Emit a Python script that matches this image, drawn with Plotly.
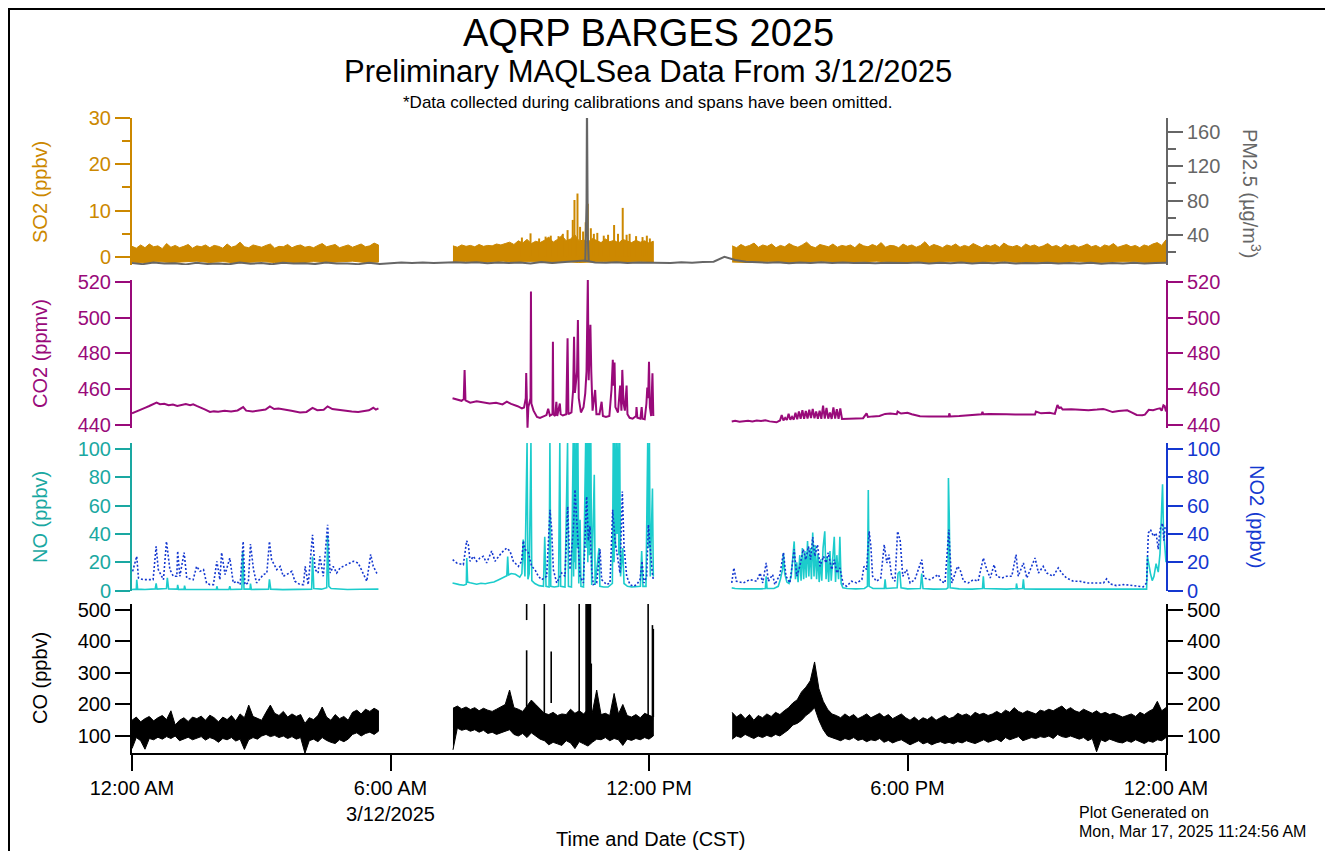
import numpy as np
import plotly.graph_objects as go

FONT = "Arial, 'Liberation Sans', Helvetica, sans-serif"

# ---------------- data (hours after 3/12/2025 00:00 CST) ----------------
segments_h = [(0.0, 5.72), (7.45, 12.10), (13.93, 24.0)]

# SO2 (ppbv): dense noise band -> upper / lower envelope, evenly sampled inside each segment
so2_hi_1 = [2.3, 1.9, 2.6, 2.0, 2.8, 2.2, 2.4, 1.8, 2.9, 2.1, 2.5, 2.0, 2.3, 2.7, 1.9, 2.4, 2.2, 2.6, 2.0, 2.5,
            2.3, 1.9, 2.8, 2.1, 2.4, 3.2, 2.2, 2.0, 2.6, 2.3, 2.1, 2.5, 2.8, 1.9, 2.3, 2.2, 2.7, 2.0, 2.4, 2.6,
            2.1, 2.3, 2.0, 2.5, 2.9, 2.2, 2.4, 2.7, 2.0, 2.3, 2.6, 2.1, 2.5, 2.8, 2.2, 2.4, 3.0, 2.6]
so2_lo_1 = [-1.1, -1.3, -1.0, -1.2, -1.1, -0.9, -1.2, -1.0, -1.3, -1.1, -1.0, -1.2, -1.1, -1.3, -1.0, -1.2,
            -1.1, -0.9, -1.2, -1.1]
so2_hi_2 = [2.4, 2.1, 2.6, 2.3, 2.5, 2.2, 2.7, 2.3, 2.5, 2.4, 2.8, 2.6, 2.9, 3.2, 2.7, 3.5,
            3.0, 3.8, 2.9, 3.4, 3.1, 3.6, 4.3, 3.2, 3.8, 4.6, 3.5, 3.9, 4.8, 3.4, 3.7, 3.2, 4.0, 3.5, 3.1, 3.9,
            3.3, 3.6, 3.0, 3.8, 3.4, 3.1, 3.6, 3.2, 3.5, 3.0, 3.4]
so2_lo_2 = [-1.1, -1.0, -1.2, -1.1, -0.9, -1.2, -1.0, -1.1, -1.3, -1.0, -1.2, -1.1, -1.0, -1.2, -1.1, -1.0, -1.2]
so2_hi_3 = [2.4, 2.0, 2.7, 2.2, 2.5, 3.0, 2.1, 2.6, 2.3, 2.8, 2.0, 2.5, 2.2, 2.9, 2.4, 2.1, 2.6, 3.2, 2.3, 2.0,
            2.7, 2.4, 2.2, 2.8, 2.1, 2.5, 2.3, 2.6, 2.0, 2.9, 2.4, 2.2, 2.7, 2.3, 3.1, 2.1, 2.5, 2.4, 2.0, 2.8,
            2.3, 2.6, 2.1, 2.5, 3.3, 2.2, 2.7, 2.4, 2.0, 2.6, 2.3, 2.8, 2.1, 2.5, 2.2, 2.9, 2.4, 2.0, 2.6, 2.3,
            2.7, 2.1, 3.0, 2.4, 2.2, 2.5, 2.0, 2.8, 2.3, 2.6, 2.1, 2.4, 2.9, 2.2, 2.5, 2.0, 2.7, 2.3, 2.6, 2.1,
            2.4, 2.8, 2.2, 2.5, 2.0, 2.6, 2.3, 2.9, 2.1, 2.4, 2.7, 2.2, 2.5, 2.0, 2.6, 2.3, 2.8, 3.1, 2.5, 3.7]
so2_lo_3 = [-1.1, -1.2, -1.0, -1.3, -1.1, -1.0, -1.2, -1.1, -0.9, -1.2, -1.1, -1.3, -1.0, -1.2, -1.1, -1.0,
            -1.2, -1.1, -1.3, -1.0, -1.2, -1.1, -1.0, -1.2, -1.1]
so2_spike_t = [9.05, 9.25, 9.45, 9.60, 9.72, 9.90, 10.00, 10.11, 10.23, 10.27, 10.34, 10.40, 10.47, 10.53,
               10.58, 10.65, 10.72, 10.80, 10.95, 11.05, 11.19, 11.28, 11.39, 11.48, 11.55, 11.70, 11.85,
               11.95, 12.02]
so2_spike_v = [4.2, 5.1, 4.0, 4.4, 4.6, 4.5, 5.0, 5.8, 8.0, 12.3, 13.7, 6.5, 5.5, 7.5,
               11.5, 6.2, 5.0, 5.2, 4.6, 4.8, 6.9, 5.0, 10.6, 4.8, 5.0, 4.5, 4.3, 4.6, 4.0]

# PM2.5 (ug/m3): every 0.25 h from 0 to 24, plus the short plume near 10:34
pm25_v = [7.5, 6.2, 8.0, 6.8, 7.2, 5.9, 7.8, 6.5, 7.0, 6.0, 8.2, 6.6, 7.4, 6.1, 7.9, 6.8, 7.2, 6.3, 8.1, 6.9,
          7.0, 6.2, 7.7, 6.5,
          7.3, 8.0, 7.6, 8.2, 7.4, 7.8, 8.5, 7.9, 8.3, 7.2, 8.0, 7.5, 8.1, 7.0, 8.6, 7.6, 8.8, 9.5, 10.5, 8.2,
          7.8, 8.5, 7.6, 8.0,
          7.8, 8.2, 7.5, 8.4, 7.9, 8.6, 9.0, 14.8, 11.0, 9.0, 8.2, 7.8, 8.4, 7.2, 8.0, 7.5, 8.3, 7.6, 8.1, 7.4,
          7.9, 7.2, 7.8, 7.5,
          7.5, 8.2, 7.0, 7.8, 7.3, 8.1, 6.9, 7.7, 7.2, 8.0, 6.8, 7.6, 7.1, 7.9, 6.8, 7.5, 7.0, 7.8, 6.7, 7.4,
          7.0, 7.7, 6.9, 7.5, 7.8]
pm25_spike_t = [10.52, 10.54, 10.55, 10.56, 10.57, 10.58, 10.60]
pm25_spike_v = [9.0, 40.0, 77.0, 200.0, 80.0, 40.0, 9.5]

# CO2 (ppmv): (hour, value)
co2_seg1 = [(0.0, 446.5), (0.1, 447.4), (0.2, 448.3), (0.3, 449.6), (0.4, 450.6), (0.5, 452.0), (0.57, 452.5),
            (0.65, 451.6), (0.75, 451.9), (0.85, 451.0), (0.95, 451.4), (1.05, 450.6), (1.15, 451.2),
            (1.25, 451.7), (1.35, 451.1), (1.42, 451.6), (1.5, 450.7), (1.6, 449.8), (1.7, 448.6), (1.81, 447.3),
            (1.9, 447.6), (2.0, 447.4), (2.15, 447.9), (2.3, 447.5), (2.45, 448.1), (2.58, 450.0), (2.65, 448.0),
            (2.8, 447.6), (2.95, 448.2), (3.1, 448.6), (3.2, 450.4), (3.3, 448.9), (3.4, 449.2), (3.55, 448.8),
            (3.7, 448.0), (3.9, 447.0), (4.05, 447.3), (4.19, 449.6), (4.3, 448.3), (4.45, 448.5), (4.54, 450.4),
            (4.65, 448.9), (4.8, 448.3), (4.95, 447.8), (5.1, 447.5), (5.25, 447.3), (5.4, 447.6), (5.5, 448.2),
            (5.6, 449.6), (5.66, 448.6), (5.72, 449.3)]
co2_seg2 = [(7.44, 454.9), (7.55, 454.2), (7.65, 453.5), (7.70, 454.5), (7.72, 470.8), (7.74, 453.8), (7.85, 452.5),
            (8.0, 453.2), (8.15, 452.6), (8.3, 452.0), (8.45, 452.4), (8.6, 451.5), (8.70, 453.0), (8.8, 451.8),
            (8.95, 450.5), (9.05, 449.3), (9.10, 449.8), (9.14, 455.0), (9.15, 469.0), (9.16, 452.0),
            (9.18, 438.5), (9.20, 450.0), (9.25, 455.0), (9.26, 514.6), (9.27, 452.0), (9.32, 448.0),
            (9.40, 444.5), (9.47, 443.9), (9.55, 444.8), (9.62, 445.5), (9.66, 449.0), (9.70, 445.2),
            (9.76, 446.0), (9.77, 486.6), (9.78, 446.0), (9.82, 445.0), (9.85, 453.0), (9.87, 445.0),
            (9.93, 452.0), (9.95, 446.0), (10.0, 445.3), (10.08, 446.0), (10.11, 488.5), (10.13, 446.0),
            (10.2, 447.0), (10.24, 460.0), (10.26, 489.4), (10.28, 458.0), (10.33, 470.0), (10.35, 498.7),
            (10.37, 455.0), (10.42, 447.0), (10.48, 450.0), (10.52, 457.7), (10.55, 470.0), (10.58, 521.5),
            (10.60, 465.0), (10.62, 478.0), (10.64, 496.0), (10.66, 470.0), (10.69, 448.0), (10.75, 459.6),
            (10.78, 446.0), (10.85, 446.0), (10.90, 453.0), (10.93, 445.0), (11.0, 444.5), (11.08, 445.0),
            (11.13, 460.0), (11.16, 476.4), (11.18, 462.0), (11.20, 475.0), (11.22, 450.0), (11.28, 447.0),
            (11.31, 458.0), (11.33, 462.0), (11.36, 448.0), (11.38, 470.8), (11.41, 452.0), (11.44, 448.0),
            (11.48, 462.0), (11.50, 446.0), (11.55, 444.0), (11.62, 443.5), (11.70, 445.0), (11.71, 450.0),
            (11.73, 444.0), (11.8, 443.5), (11.83, 450.0), (11.85, 443.5), (11.9, 443.2), (11.94, 452.0),
            (11.96, 461.0), (11.98, 455.0), (12.0, 475.4), (12.02, 450.0), (12.05, 445.0), (12.08, 468.9),
            (12.10, 445.0)]
co2_seg3 = [(13.92, 441.9), (14.0, 442.3), (14.1, 441.8), (14.2, 442.2), (14.3, 442.4), (14.4, 442.0),
            (14.5, 442.5), (14.6, 442.2), (14.7, 442.6), (14.8, 442.0), (14.9, 441.6), (14.96, 441.5),
            (15.04, 442.5), (15.08, 445.5), (15.12, 442.6), (15.16, 444.0), (15.2, 442.8), (15.24, 446.2),
            (15.28, 443.0), (15.32, 444.5), (15.36, 443.0), (15.40, 446.8), (15.44, 443.2), (15.48, 447.5),
            (15.52, 443.4), (15.56, 448.2), (15.60, 443.5), (15.64, 447.8), (15.68, 443.6), (15.72, 448.5),
            (15.76, 443.8), (15.80, 449.0), (15.84, 443.7), (15.88, 447.6), (15.92, 443.5), (15.96, 448.0),
            (16.00, 443.4), (16.04, 450.8), (16.08, 443.6), (16.12, 449.5), (16.16, 443.5), (16.20, 447.0),
            (16.24, 443.4), (16.28, 449.8), (16.32, 443.6), (16.36, 448.8), (16.40, 443.5), (16.44, 449.2),
            (16.48, 443.4), (16.6, 443.4), (16.8, 443.5), (16.97, 443.8), (17.05, 446.5), (17.08, 444.5),
            (17.2, 444.8), (17.35, 445.0), (17.48, 446.2), (17.6, 446.4), (17.75, 446.0), (17.77, 447.5),
            (17.85, 446.4), (18.0, 446.8), (18.1, 446.0), (18.2, 445.3), (18.29, 444.9), (18.5, 444.7),
            (18.7, 444.8), (18.8, 444.5), (18.96, 444.8), (18.97, 446.5), (18.99, 444.8), (19.2, 445.0),
            (19.4, 445.3), (19.6, 445.8), (19.72, 446.0), (19.74, 447.4), (19.76, 446.0), (19.9, 446.2),
            (20.1, 446.3), (20.3, 446.0), (20.5, 445.8), (20.7, 446.0), (20.96, 445.9), (20.98, 447.5),
            (21.1, 446.5), (21.3, 446.8), (21.42, 446.2), (21.48, 451.2), (21.52, 449.5), (21.56, 449.8),
            (21.6, 448.7), (21.8, 448.8), (22.0, 448.5), (22.2, 448.3), (22.4, 448.6), (22.54, 448.9),
            (22.6, 448.6), (22.76, 447.2), (22.9, 447.8), (23.1, 448.2), (23.2, 447.0), (23.32, 445.6),
            (23.45, 445.4), (23.51, 445.8), (23.6, 448.5), (23.7, 448.2), (23.8, 449.0), (23.86, 449.3),
            (23.9, 448.0), (23.94, 451.0), (23.97, 450.5), (24.0, 447.5)]

# NO (ppbv)
no_seg1 = [(0.0, 0.8), (0.10, 1.0), (0.11, 7.7), (0.13, 1.0), (0.3, 0.8), (0.54, 1.2), (0.56, 5.0), (0.58, 1.0),
           (0.80, 1.5), (0.82, 9.0), (0.85, 1.2), (1.05, 1.0), (1.06, 4.0), (1.08, 0.8), (1.21, 1.0), (1.22, 3.5),
           (1.24, 0.8), (1.5, 0.7), (1.96, 0.8), (1.97, 3.0), (1.99, 0.8), (2.25, 0.8), (2.27, 3.0), (2.29, 0.8),
           (2.55, 1.0), (2.57, 28.0), (2.60, 1.0), (2.74, 1.0), (2.75, 5.0), (2.77, 0.8), (3.0, 0.7), (3.17, 1.0),
           (3.19, 8.0), (3.22, 1.0), (3.5, 0.7), (3.8, 0.8), (4.0, 0.7), (4.17, 1.0), (4.19, 24.0), (4.22, 1.5),
           (4.4, 1.0), (4.52, 2.0), (4.54, 39.0), (4.57, 3.0), (4.62, 1.5), (4.8, 1.0), (5.0, 0.8), (5.3, 0.9),
           (5.6, 0.8), (5.72, 1.0)]
no_seg2 = [(7.44, 5.4), (7.5, 4.8), (7.6, 4.2), (7.7, 3.8), (7.76, 4.5), (7.77, 23.0), (7.79, 6.0), (7.85, 5.5),
           (8.0, 4.5), (8.1, 5.2), (8.2, 4.8), (8.3, 5.5), (8.4, 6.0), (8.5, 7.5), (8.6, 9.0), (8.7, 10.5),
           (8.72, 24.0), (8.74, 11.0), (8.8, 12.0), (8.9, 11.5), (9.0, 9.5), (9.05, 12.0), (9.08, 36.0),
           (9.12, 10.0), (9.17, 105.0), (9.19, 8.0), (9.22, 12.0), (9.26, 105.0), (9.28, 7.0), (9.35, 5.0),
           (9.45, 3.5), (9.55, 3.0), (9.58, 38.0), (9.61, 3.0), (9.68, 2.5), (9.70, 105.0), (9.72, 3.0),
           (9.8, 2.5), (9.9, 3.0), (9.93, 105.0), (9.95, 3.0), (10.05, 2.5), (10.11, 105.0), (10.13, 3.0),
           (10.2, 2.5), (10.24, 105.0), (10.25, 10.0), (10.26, 105.0), (10.27, 20.0), (10.28, 105.0),
           (10.30, 15.0), (10.32, 105.0), (10.33, 30.0), (10.35, 105.0), (10.37, 5.0), (10.40, 50.0),
           (10.42, 3.0), (10.48, 2.5), (10.53, 105.0), (10.54, 30.0), (10.55, 105.0), (10.56, 40.0),
           (10.57, 105.0), (10.58, 20.0), (10.59, 105.0), (10.60, 35.0), (10.61, 105.0), (10.62, 25.0),
           (10.63, 105.0), (10.64, 40.0), (10.65, 105.0), (10.67, 4.0), (10.73, 81.7), (10.75, 4.0),
           (10.84, 30.0), (10.86, 3.0), (10.95, 2.5), (11.05, 2.5), (11.15, 5.0), (11.17, 105.0), (11.19, 20.0),
           (11.20, 105.0), (11.22, 30.0), (11.24, 105.0), (11.26, 40.0), (11.28, 105.0), (11.30, 25.0),
           (11.32, 105.0), (11.34, 10.0), (11.39, 30.0), (11.42, 5.0), (11.5, 3.0), (11.6, 2.5), (11.7, 2.5),
           (11.8, 3.0), (11.83, 28.0), (11.86, 3.0), (11.93, 3.0), (11.97, 105.0), (11.99, 30.0), (12.01, 105.0),
           (12.03, 10.0), (12.06, 50.0), (12.08, 72.0), (12.10, 10.0)]
no_seg3 = [(13.92, 1.9), (14.0, 1.5), (14.2, 1.2), (14.4, 1.0), (14.6, 1.2), (14.70, 1.5), (14.72, 10.0),
           (14.74, 1.5), (14.9, 1.5), (15.0, 3.0), (15.05, 8.0), (15.10, 15.0), (15.12, 26.5), (15.15, 12.0),
           (15.2, 6.0), (15.25, 5.0), (15.30, 10.0), (15.37, 34.7), (15.40, 8.0), (15.43, 20.0), (15.46, 6.0),
           (15.50, 25.0), (15.53, 7.0), (15.56, 30.0), (15.59, 8.0), (15.62, 28.0), (15.65, 9.0), (15.68, 35.0),
           (15.71, 10.0), (15.74, 30.0), (15.77, 8.0), (15.80, 41.0), (15.83, 10.0), (15.86, 32.0), (15.89, 8.0),
           (15.92, 26.0), (15.95, 6.0), (15.98, 22.0), (16.01, 7.0), (16.04, 30.0), (16.08, 41.8), (16.11, 8.0),
           (16.14, 24.0), (16.17, 6.0), (16.20, 28.0), (16.23, 7.0), (16.26, 20.0), (16.30, 38.0), (16.33, 6.0),
           (16.36, 25.0), (16.40, 8.0), (16.43, 38.0), (16.46, 5.0), (16.5, 2.0), (16.6, 1.5), (16.8, 1.2),
           (17.0, 1.5), (17.07, 3.0), (17.09, 71.0), (17.11, 3.0), (17.2, 1.5), (17.46, 1.5), (17.48, 8.0),
           (17.50, 1.5), (17.76, 2.0), (17.78, 12.0), (17.82, 13.5), (17.85, 2.0), (18.0, 1.2), (18.3, 1.5),
           (18.33, 12.0), (18.36, 1.5), (18.6, 1.0), (18.9, 1.2), (18.94, 2.0), (18.95, 79.4), (18.97, 51.0),
           (18.99, 2.0), (19.2, 1.2), (19.5, 1.0), (19.74, 1.5), (19.76, 10.0), (19.78, 1.5), (20.0, 1.2),
           (20.3, 1.0), (20.52, 1.5), (20.53, 5.0), (20.55, 1.2), (20.67, 1.5), (20.69, 8.0), (20.71, 1.2),
           (21.0, 1.0), (21.5, 0.9), (22.0, 0.8), (22.5, 0.8), (23.0, 0.8), (23.4, 0.9), (23.55, 1.0),
           (23.57, 24.0), (23.60, 18.0), (23.64, 12.0), (23.68, 7.0), (23.72, 10.0), (23.77, 19.0), (23.82, 13.0),
           (23.86, 26.0), (23.90, 55.0), (23.92, 75.0), (23.94, 44.0), (23.97, 30.0), (24.0, 20.0)]

# NO2 (ppbv)
no2_seg1 = [(0.015, 13.6), (0.11, 24.2), (0.15, 8.9), (0.26, 7.7), (0.49, 7.7), (0.56, 31.2), (0.61, 14.8),
            (0.73, 7.7), (0.80, 34.7), (0.88, 14.8), (0.96, 10.1), (1.04, 10.1), (1.06, 27.9), (1.11, 10.1),
            (1.21, 26.8), (1.27, 8.9), (1.42, 7.7), (1.50, 17.1), (1.58, 13.6), (1.66, 14.8), (1.73, 5.4),
            (1.81, 4.2), (1.89, 4.2), (1.97, 20.7), (2.04, 7.7), (2.08, 26.8), (2.16, 11.3), (2.27, 23.0),
            (2.35, 5.4), (2.43, 6.6), (2.51, 4.2), (2.58, 34.7), (2.62, 4.2), (2.70, 5.4), (2.75, 32.9),
            (2.82, 14.8), (2.89, 5.4), (3.05, 11.3), (3.13, 12.4), (3.19, 34.7), (3.24, 21.8), (3.36, 14.8),
            (3.44, 17.1), (3.51, 10.1), (3.59, 11.3), (3.71, 13.6), (3.78, 6.6), (3.90, 4.2), (3.98, 4.2),
            (4.02, 17.1), (4.09, 4.2), (4.19, 39.4), (4.25, 14.8), (4.32, 12.4), (4.36, 24.2), (4.44, 10.1),
            (4.54, 46.5), (4.60, 12.4), (4.67, 17.1), (4.75, 12.4), (4.83, 16.0), (4.90, 17.1), (4.98, 18.3),
            (5.14, 20.7), (5.25, 19.5), (5.37, 11.3), (5.45, 6.6), (5.54, 25.6), (5.60, 17.1), (5.68, 12.4),
            (5.72, 11.3)]
no2_seg2 = [(7.443, 21.8), (7.536, 19.5), (7.691, 18.3), (7.768, 35.2), (7.807, 32.4), (7.845, 20.7),
            (7.923, 24.2), (8.0, 20.7), (8.077, 23.0), (8.155, 24.2), (8.232, 19.5), (8.348, 27.9), (8.426, 20.7),
            (8.503, 24.2), (8.58, 26.8), (8.696, 30.0), (8.774, 27.9), (8.851, 20.7), (8.967, 17.1),
            (9.045, 20.7), (9.083, 35.2), (9.122, 29.1), (9.199, 26.8), (9.277, 17.1), (9.354, 14.8),
            (9.431, 10.1), (9.509, 7.7), (9.625, 10.1), (9.702, 57.0), (9.741, 43.0), (9.78, 14.8), (9.857, 5.4),
            (9.973, 12.4), (10.05, 10.1), (10.112, 59.4), (10.166, 14.8), (10.244, 43.0), (10.282, 71.2),
            (10.321, 50.0), (10.36, 31.2), (10.399, 10.1), (10.476, 5.4), (10.553, 66.4), (10.592, 35.2),
            (10.631, 45.3), (10.669, 14.8), (10.708, 4.2), (10.785, 5.4), (10.863, 29.1), (10.901, 7.7),
            (11.017, 4.2), (11.095, 5.4), (11.157, 57.0), (11.211, 35.2), (11.288, 19.5), (11.327, 12.4),
            (11.381, 70.0), (11.42, 31.2), (11.482, 10.1), (11.559, 4.2), (11.637, 3.1), (11.714, 4.2),
            (11.791, 7.7), (11.838, 20.7), (11.884, 5.4), (11.946, 10.1), (11.985, 46.5), (12.023, 31.2),
            (12.077, 12.4), (12.101, 7.7)]
no2_seg3 = [(13.92, 5.4), (13.97, 16.0), (14.03, 6.6), (14.19, 5.4), (14.34, 7.7), (14.5, 6.6), (14.58, 12.4),
            (14.64, 5.4), (14.72, 19.5), (14.77, 6.6), (14.87, 11.3), (14.92, 4.2), (15.04, 11.3), (15.12, 26.8),
            (15.18, 10.1), (15.27, 5.4), (15.37, 29.1), (15.43, 10.1), (15.5, 17.1), (15.58, 29.1), (15.64, 21.8),
            (15.70, 31.2), (15.75, 21.8), (15.80, 37.8), (15.85, 24.2), (15.91, 32.4), (15.97, 17.1),
            (16.05, 24.2), (16.11, 19.5), (16.16, 26.8), (16.24, 14.8), (16.30, 21.8), (16.36, 12.4),
            (16.43, 16.0), (16.51, 4.2), (16.59, 3.1), (16.70, 6.6), (16.82, 5.4), (16.94, 7.7), (16.99, 17.1),
            (17.05, 14.8), (17.11, 41.8), (17.15, 31.2), (17.19, 10.1), (17.28, 6.6), (17.38, 8.9), (17.46, 32.4),
            (17.52, 19.5), (17.57, 25.4), (17.63, 10.1), (17.71, 6.6), (17.77, 41.8), (17.83, 35.2),
            (17.89, 10.1), (17.98, 14.8), (18.06, 5.4), (18.17, 7.7), (18.33, 21.8), (18.38, 8.9), (18.52, 7.7),
            (18.72, 11.3), (18.77, 6.6), (18.87, 5.4), (18.96, 43.0), (18.99, 24.2), (19.03, 5.4), (19.16, 17.1),
            (19.22, 14.8), (19.30, 6.6), (19.41, 5.4), (19.53, 7.7), (19.64, 6.6), (19.76, 23.0), (19.84, 14.8),
            (19.92, 8.9), (20.01, 18.3), (20.07, 10.1), (20.19, 8.9), (20.30, 10.1), (20.42, 10.1),
            (20.52, 25.4), (20.57, 10.1), (20.69, 19.5), (20.77, 8.9), (20.96, 23.0), (21.04, 12.4),
            (21.15, 17.1), (21.23, 12.4), (21.38, 10.1), (21.50, 16.0), (21.58, 12.4), (21.69, 8.9), (21.85, 6.6),
            (22.0, 6.6), (22.16, 5.4), (22.39, 5.4), (22.55, 5.4), (22.62, 8.2), (22.70, 4.7), (22.85, 3.5),
            (23.01, 4.2), (23.16, 3.8), (23.32, 3.1), (23.47, 2.6), (23.55, 5.4), (23.59, 40.6), (23.64, 43.0),
            (23.71, 38.3), (23.77, 40.6), (23.82, 29.1), (23.86, 43.0), (23.92, 47.6), (23.95, 35.2),
            (23.98, 45.3)]

# CO (ppbv): noise band envelope, evenly sampled inside each segment
co_hi_1 = [150, 160, 145, 155, 162, 148, 158, 165, 152, 180, 135, 150, 158, 146, 160, 155, 163, 150, 166, 158,
           145, 160, 152, 165, 148, 170, 158, 198, 162, 155, 150, 175, 198, 172, 165, 178, 160, 170, 162, 168,
           140, 158, 152, 165, 192, 160, 150, 168, 155, 162, 150, 175, 182, 170, 185, 178, 188, 180]
co_lo_1 = [60, 95, 85, 58, 92, 88, 96, 90, 98, 92, 100, 85, 90, 96, 88, 92, 98, 87, 95, 90,
           80, 92, 88, 95, 84, 90, 57, 88, 95, 90, 100, 105, 98, 102, 95, 100, 92, 98, 90, 95,
           45, 85, 90, 82, 95, 86, 80, 76, 88, 82, 90, 105, 110, 100, 108, 112, 105, 115]
co_hi_2 = [188, 195, 186, 192, 184, 190, 180, 188, 182, 178, 185, 192, 200, 246, 190, 185, 178, 195, 214, 200,
           185, 172, 168, 175, 165, 170, 168, 185, 172, 180, 170, 185, 175, 246, 168, 172, 165, 235, 170, 200,
           165, 160, 168, 158, 172, 165, 160]
co_lo_2 = [56, 125, 118, 122, 115, 120, 112, 118, 108, 112, 105, 110, 115, 120, 105, 100, 108, 95, 110, 100,
           90, 85, 72, 80, 75, 70, 85, 78, 60, 82, 75, 68, 80, 90, 88, 95, 85, 92, 88, 70,
           90, 86, 92, 88, 95, 90, 100]
co_hi_3 = [175, 160, 170, 155, 168, 150, 165, 158, 170, 162, 175, 168, 180, 190, 205, 215, 240, 255, 275, 335,
           250, 210, 185, 170, 165, 158, 170, 160, 168, 155, 162, 170, 158, 165, 172, 160, 168, 155, 162, 170,
           158, 150, 160, 148, 158, 152, 162, 150, 158, 165, 155, 160, 172, 165, 170, 162, 175, 168, 172, 165,
           170, 178, 170, 182, 175, 190, 178, 172, 180, 175, 170, 182, 178, 185, 180, 188, 195, 182, 190, 180,
           175, 185, 178, 172, 180, 170, 175, 168, 172, 165, 160, 165, 170, 162, 175, 168, 178, 185, 210, 180, 190]
co_lo_3 = [90, 100, 95, 105, 98, 92, 100, 95, 102, 97, 105, 100, 110, 120, 135, 140, 150, 165, 175, 190,
           150, 120, 100, 95, 90, 85, 92, 88, 95, 86, 90, 82, 88, 85, 92, 80, 86, 78, 84, 88,
           80, 72, 78, 85, 75, 80, 72, 78, 82, 76, 80, 75, 82, 78, 85, 80, 76, 82, 88, 80,
           85, 90, 82, 95, 88, 92, 98, 85, 90, 95, 92, 98, 95, 100, 92, 105, 98, 95, 100, 96,
           90, 95, 85, 92, 50, 88, 82, 90, 85, 80, 78, 85, 80, 88, 82, 76, 84, 80, 88, 85, 95]
# isolated high CO excursions: (hour, low, high)
co_spikes = [(9.16, 175, 372), (9.16, 468, 530), (9.57, 150, 530), (9.73, 205, 368), (10.38, 150, 530),
             (10.54, 95, 530), (10.56, 110, 530), (10.58, 100, 530), (10.60, 130, 530), (10.62, 160, 530),
             (10.64, 120, 530), (10.66, 150, 330), (11.98, 150, 530), (12.08, 150, 452), (12.10, 160, 440)]

tick_hours = [0, 6, 12, 18, 24]
tick_text = ["12:00 AM", "6:00 AM<br>3/12/2025", "12:00 PM", "6:00 PM", "12:00 AM"]

# ---------------- styles ----------------
C_SO2 = "#CC8800"
C_PM = "#666666"
C_CO2 = "#990A7A"
C_NO_AX = "#1AA8A2"
C_NO = "#1CCCCC"
C_NO2 = "#1438D0"
C_CO = "#000000"
TICK_SIZE = 20


def join_segments(segs):
    xs, ys = [], []
    for k, seg in enumerate(segs):
        if k:
            xs.append(None)
            ys.append(None)
        xs += [p[0] for p in seg]
        ys += [p[1] for p in seg]
    return xs, ys


fig = go.Figure()

# SO2 envelope bands
for (a, b), hi, lo in zip(segments_h, [so2_hi_1, so2_hi_2, so2_hi_3], [so2_lo_1, so2_lo_2, so2_lo_3]):
    th = np.linspace(a, b, len(hi))
    tl = np.linspace(a, b, len(lo))
    fig.add_trace(go.Scatter(x=list(th) + list(tl[::-1]), y=list(hi) + list(lo[::-1]), fill="toself",
                             fillcolor=C_SO2, mode="lines", line=dict(color=C_SO2, width=1),
                             xaxis="x", yaxis="y", hoverinfo="skip", showlegend=False))
sx, sy = [], []
for t, v in zip(so2_spike_t, so2_spike_v):
    sx += [t, t, None]
    sy += [0, v, None]
fig.add_trace(go.Scatter(x=sx, y=sy, mode="lines", line=dict(color=C_SO2, width=2),
                         xaxis="x", yaxis="y", showlegend=False))

# PM2.5
fig.add_trace(go.Scatter(x=np.linspace(0, 24, len(pm25_v)), y=pm25_v, mode="lines",
                         line=dict(color=C_PM, width=2), xaxis="x", yaxis="y2", showlegend=False))
fig.add_trace(go.Scatter(x=pm25_spike_t, y=pm25_spike_v, mode="lines",
                         line=dict(color=C_PM, width=2), xaxis="x", yaxis="y2", showlegend=False))

# CO2
x, y = join_segments([co2_seg1, co2_seg2, co2_seg3])
fig.add_trace(go.Scatter(x=x, y=y, mode="lines", line=dict(color=C_CO2, width=2),
                         xaxis="x", yaxis="y3", showlegend=False))

# NO and NO2
x, y = join_segments([no_seg1, no_seg2, no_seg3])
fig.add_trace(go.Scatter(x=x, y=y, mode="lines", line=dict(color=C_NO, width=1.6),
                         xaxis="x", yaxis="y5", showlegend=False))
x, y = join_segments([no2_seg1, no2_seg2, no2_seg3])
fig.add_trace(go.Scatter(x=x, y=y, mode="lines", line=dict(color=C_NO2, width=1.6, dash="2px,2px"),
                         xaxis="x", yaxis="y6", showlegend=False))

# CO envelope bands
for (a, b), hi, lo in zip(segments_h, [co_hi_1, co_hi_2, co_hi_3], [co_lo_1, co_lo_2, co_lo_3]):
    th = np.linspace(a, b, len(hi))
    tl = np.linspace(a, b, len(lo))
    fig.add_trace(go.Scatter(x=list(th) + list(tl[::-1]), y=list(hi) + list(lo[::-1]), fill="toself",
                             fillcolor=C_CO, mode="lines", line=dict(color=C_CO, width=1),
                             xaxis="x", yaxis="y7", hoverinfo="skip", showlegend=False))
cx, cy = [], []
for t, lo, hi in co_spikes:
    cx += [t, t, None]
    cy += [lo, hi, None]
fig.add_trace(go.Scatter(x=cx, y=cy, mode="lines", line=dict(color=C_CO, width=1.6),
                         xaxis="x", yaxis="y7", showlegend=False))
# empty traces so the right-hand CO2 / CO axes are drawn
fig.add_trace(go.Scatter(x=[None], y=[None], xaxis="x", yaxis="y4", showlegend=False))
fig.add_trace(go.Scatter(x=[None], y=[None], xaxis="x", yaxis="y8", showlegend=False))

# ---------------- layout ----------------
# the page body has an 8 px margin: the figure is placed 8 px right/down of the window corner
OFF = 8
W, H = 1333 - OFF, 851 - OFF
L = 132 - OFF
T = 118 - OFF
R = W - (1166 - OFF)
B = H - (753 - OFF)
PH = H - T - B
PW = W - L - R


def py(pix):  # window pixel row -> paper y
    return (H - B - (pix - OFF)) / PH


def px(pix):  # window pixel column -> paper x
    return (pix - OFF - L) / PW


def yax(color, rng, dtick=None, tickvals=None, minor=None, domain=None, side="left", overlaying=None):
    d = dict(range=rng, showline=True, linecolor=color, linewidth=2, ticks="outside", ticklen=15,
             tickwidth=2, tickcolor=color, tickfont=dict(color=color, size=TICK_SIZE, family=FONT),
             showgrid=False, zeroline=False, anchor="x", side=side, fixedrange=True)
    if dtick is not None:
        d["dtick"] = dtick
        d["tick0"] = 0
    if tickvals is not None:
        d["tickvals"] = tickvals
    if minor is not None:
        d["minor"] = dict(dtick=minor, tick0=0, ticks="outside", ticklen=8, tickwidth=2, tickcolor=color,
                          showgrid=False)
    if domain is not None:
        d["domain"] = domain
    if overlaying is not None:
        d["overlaying"] = overlaying
    return d


d_so2 = [py(265), py(118)]
d_co2 = [py(428), py(280)]
d_no = [py(591), py(443)]
d_co = [0.0, py(604)]

fig.update_layout(
    width=W, height=H, margin=dict(l=L, r=R, t=T, b=B, autoexpand=False),
    paper_bgcolor="white", plot_bgcolor="white", showlegend=False,
    font=dict(family=FONT, color="black"),
    xaxis=dict(range=[0, 24], domain=[0, 1], anchor="y7", tickvals=tick_hours, ticktext=tick_text,
               ticks="outside", ticklen=16, tickwidth=2, tickcolor="black", showline=True, linecolor="black",
               linewidth=2, showgrid=False, zeroline=False, fixedrange=True,
               tickfont=dict(size=TICK_SIZE, color="black", family=FONT)),
    yaxis=yax(C_SO2, [-1.73, 30], dtick=10, minor=5, domain=d_so2),
    yaxis2=yax(C_PM, [5.2, 176], tickvals=[40, 80, 120, 160], minor=20, side="right", overlaying="y"),
    yaxis3=yax(C_CO2, [438.3, 521.1], dtick=20, domain=d_co2),
    yaxis4=yax(C_CO2, [438.3, 521.1], dtick=20, side="right", overlaying="y3"),
    yaxis5=yax(C_NO_AX, [-0.3, 104.2], dtick=20, domain=d_no),
    yaxis6=yax(C_NO2, [-0.3, 104.2], dtick=20, side="right", overlaying="y5"),
    yaxis7=yax(C_CO, [46, 519], dtick=100, domain=d_co),
    yaxis8=yax(C_CO, [46, 519], dtick=100, side="right", overlaying="y7"),
)

ann = []


def add_text(text, xp, yp, size, color="black", angle=0, xanchor="center", yanchor="middle"):
    ann.append(dict(text=text, x=px(xp), y=py(yp), xref="paper", yref="paper", showarrow=False,
                    font=dict(size=size, color=color, family=FONT), textangle=angle,
                    xanchor=xanchor, yanchor=yanchor))


add_text("AQRP BARGES 2025", 648, 33, 38)
add_text("Preliminary MAQLSea Data From 3/12/2025", 648, 71, 31)
add_text("*Data collected during calibrations and spans have been omitted.", 648, 102, 17)
add_text("SO2 (ppbv)", 40, 192, 20, C_SO2, -90)
add_text("CO2 (ppmv)", 40, 354, 20, C_CO2, -90)
add_text("NO (ppbv)", 40, 517, 20, C_NO_AX, -90)
add_text("CO (ppbv)", 40, 678, 20, C_CO, -90)
add_text("PM2.5 (µg/m<sup>3</sup>)", 1252, 193, 20, C_PM, 90)
add_text("NO2 (ppbv)", 1257, 516, 20, C_NO2, 90)
add_text("Time and Date (CST)", 650, 839, 20)
add_text("Plot Generated on", 1077, 812, 16, xanchor="left")
add_text("Mon, Mar 17, 2025 11:24:56 AM", 1077, 831, 16, xanchor="left")
fig.update_layout(annotations=ann)

# outer frame of the page
fig.add_shape(type="rect", xref="paper", yref="paper", x0=px(9), x1=px(1328), y0=py(880), y1=py(9),
              line=dict(color="black", width=2), fillcolor="rgba(0,0,0,0)", layer="below")

fig.write_html("out.html", include_plotlyjs=True, full_html=True)
